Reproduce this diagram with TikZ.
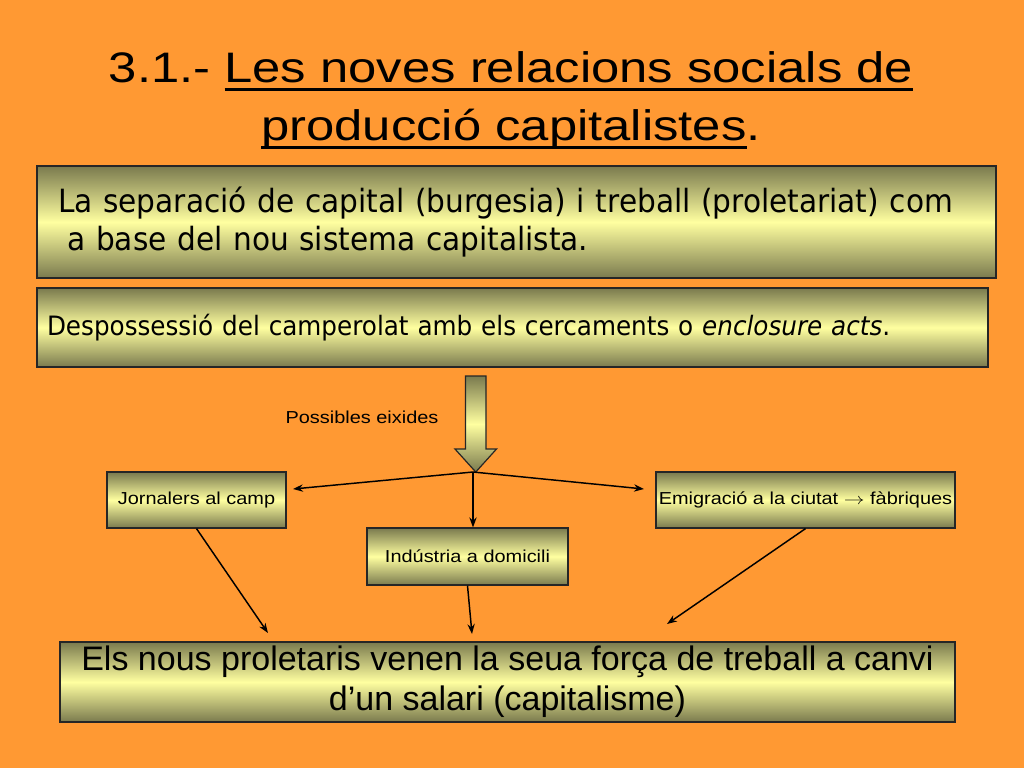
\documentclass[tikz,border=0pt]{standalone}
\usepackage{fontspec}
\usepackage{graphicx}
\usetikzlibrary{arrows.meta}
\setmainfont{Liberation Sans}
\newfontfamily\titlefont[FakeStretch=1.19]{Liberation Sans}
\newfontfamily\panelfont[FakeStretch=0.925]{DejaVu Sans}
\newfontfamily\labelfont[FakeStretch=1.15]{Liberation Sans}
\definecolor{slideorange}{RGB}{255,153,51}
\definecolor{olivedark}{RGB}{122,122,78}
\definecolor{paleyellow}{RGB}{255,255,160}
\newsavebox{\ulbox}
\newcommand{\ulword}[1]{\sbox{\ulbox}{#1}\rlap{\rule[-7pt]{\wd\ulbox}{2.2pt}}\usebox{\ulbox}}
\tikzset{
  panel/.style={draw=black!85,line width=0.9pt,top color=olivedark,bottom color=olivedark,middle color=paleyellow,inner sep=0pt},
  smallbox/.style={panel,font=\labelfont\fontsize{13}{15}\selectfont},
  link/.style={line width=1.1pt,-{Stealth[length=7.5pt,width=5.5pt]}}
}
\begin{document}
\begin{tikzpicture}[x=0.75pt,y=-0.75pt]
  \useasboundingbox[fill=slideorange] (0,0) rectangle (1024,768);
  % titol
  \node[anchor=base,font=\titlefont\fontsize{32}{38}\selectfont] (title1) at (511,82) {3.1.- \ulword{Les noves relacions socials de}};
  \node[anchor=base,font=\titlefont\fontsize{32}{38}\selectfont] (title2) at (511,140) {\ulword{producció capitalistes}.};
  % caixes de dalt
  \node[panel,minimum width=719.25pt,minimum height=84pt,text width=687.75pt,align=left,
        font=\panelfont\fontsize{24}{28.5}\selectfont] (separacio) at (516.5,222)
    {La separació de capital (burgesia) i treball (proletariat) com\\\hspace*{7pt}a base del nou sistema capitalista.};
  \node[panel,minimum width=713.25pt,minimum height=59.25pt,text width=698.25pt,align=left,
        font=\panelfont\fontsize{20}{24}\selectfont] (despossessio) at (512.5,327.5)
    {Despossessió del camperolat amb els cercaments o \textit{enclosure acts}.};
  % fletxa gran
  \draw[panel] (465.5,376) -- (486,376) -- (486,449) -- (496.5,449) -- (475.75,472) -- (455,449) -- (465.5,449) -- cycle;
  \node[font=\labelfont\fontsize{13}{15}\selectfont] (eixides) at (362,417) {Possibles eixides};
  \coordinate (split) at (473,472);
  % eixides
  \node[smallbox,minimum width=134.25pt,minimum height=42pt] (jornalers) at (196.5,500) {Jornalers al camp};
  \node[smallbox,minimum width=150.75pt,minimum height=42.75pt] (industria) at (467.5,556.5) {Indústria a domicili};
  \node[smallbox,minimum width=224.25pt,minimum height=42pt] (emigracio) at (805.5,500) {Emigració a la ciutat \scalebox{1.3}[1]{$\rightarrow$} fàbriques};
  \node[panel,minimum width=671.25pt,minimum height=60pt,align=center,
        font=\fontsize{25.5}{30}\selectfont] (proletaris) at (507.5,682)
    {Els nous proletaris venen la seua força de treball a canvi\\d’un salari (capitalisme)};
  \coordinate (jornin) at (293,489);
  \coordinate (emigin) at (644,489);
  \coordinate (jornout) at (268,633);
  \coordinate (induout) at (472,634);
  \coordinate (emigout) at (667,624);
  \draw[link] (split) -- (jornin);
  \draw[link] (split) -- (split |- industria.north);
  \draw[link] (split) -- (emigin);
  \draw[link] (jornalers.south) -- (jornout);
  \draw[link] (industria.south) -- (induout);
  \draw[link] (emigracio.south) -- (emigout);
\end{tikzpicture}
\end{document}
